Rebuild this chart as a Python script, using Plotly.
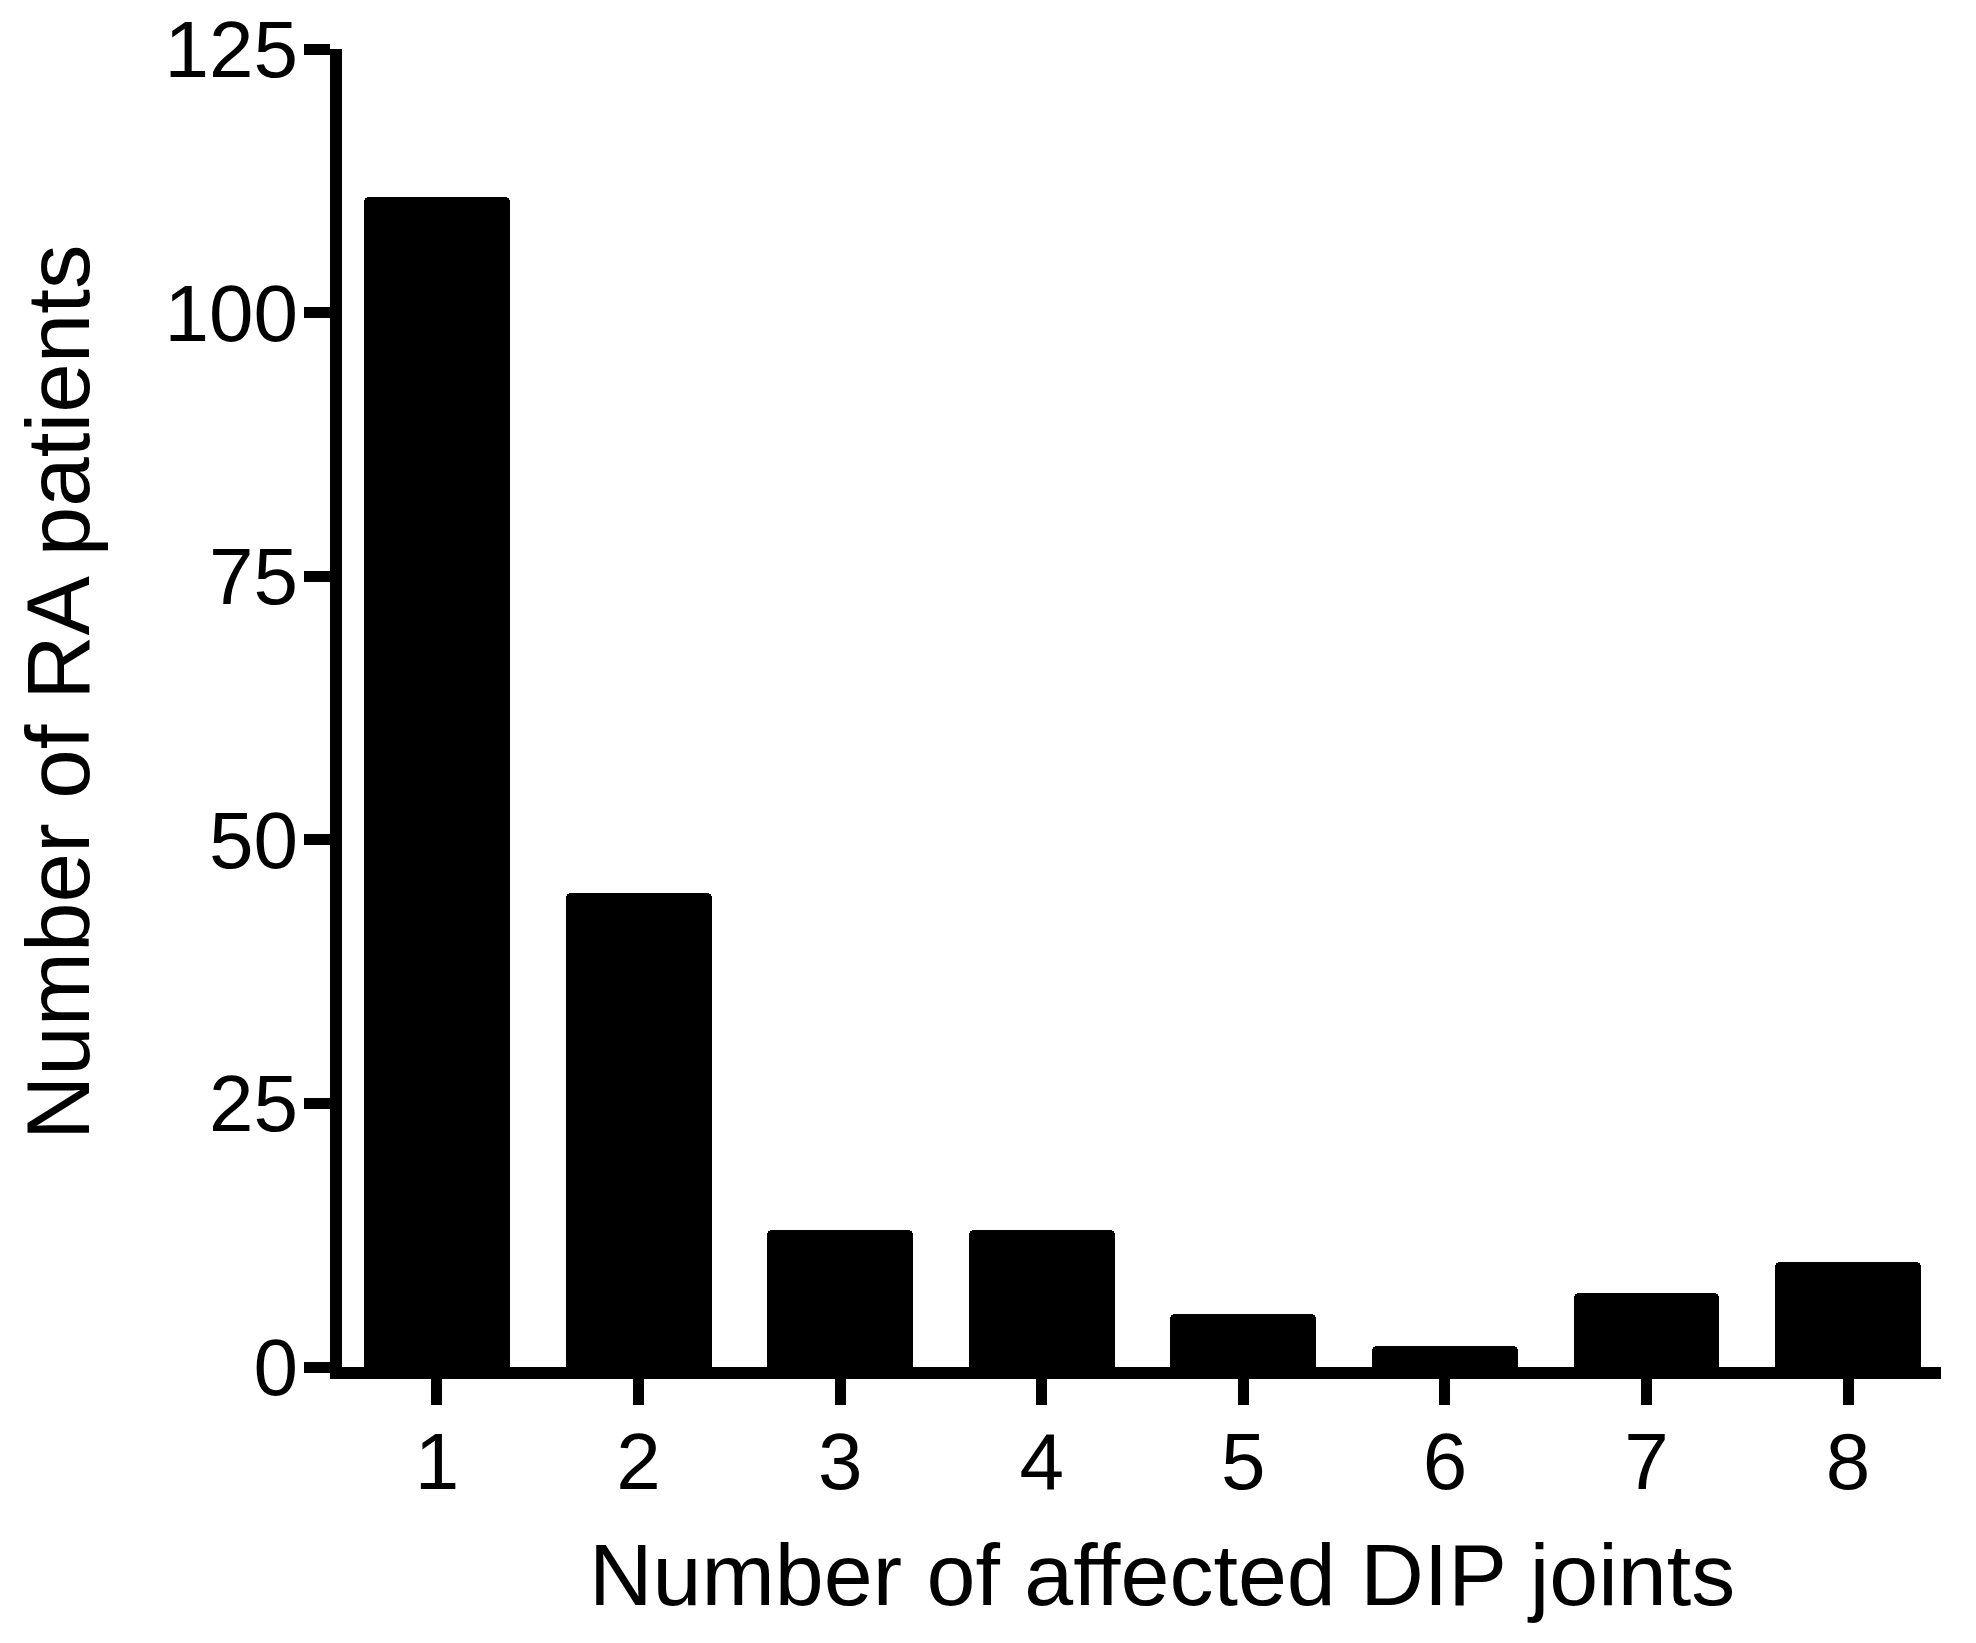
import plotly.graph_objects as go

joints = [1, 2, 3, 4, 5, 6, 7, 8]
patients = [111, 45, 13, 13, 5, 2, 7, 10]
y_ticks = [0, 25, 50, 75, 100, 125]

FONT = "Liberation Sans, Arial, Helvetica, sans-serif"

fig = go.Figure(
    go.Bar(
        x=joints,
        y=patients,
        width=0.724,
        marker=dict(color="black", line=dict(width=0), cornerradius=5),
        showlegend=False,
    )
)

fig.update_layout(
    width=1976,
    height=1643,
    paper_bgcolor="white",
    plot_bgcolor="white",
    margin=dict(l=342, r=35, t=49, b=276, autoexpand=False),
    font=dict(family=FONT, color="black"),
    bargap=0,
    annotations=[
        dict(
            text="Number of affected DIP joints",
            xref="paper", yref="paper",
            x=0.5128, y=0,
            xanchor="center", yanchor="middle",
            yshift=-207,
            showarrow=False,
            font=dict(size=88, family=FONT, color="black"),
        ),
        dict(
            text="Number of RA patients",
            xref="paper", yref="paper",
            x=0, y=0.5114,
            xanchor="center", yanchor="middle",
            xshift=-284,
            textangle=-90,
            showarrow=False,
            font=dict(size=89, family=FONT, color="black"),
        ),
    ],
)

fig.update_xaxes(
    range=[0.529, 8.461],
    tickvals=joints,
    ticktext=[str(j) for j in joints],
    showline=True,
    linewidth=12,
    linecolor="black",
    ticks="outside",
    ticklen=26,
    tickwidth=11,
    tickcolor="black",
    tickfont=dict(size=80, family=FONT, color="black"),
    ticklabelstandoff=-12,
    ticklabeloverflow="allow",
    showgrid=False,
    zeroline=False,
)

fig.update_yaxes(
    range=[0, 125],
    tickvals=y_ticks,
    ticktext=[str(v) for v in y_ticks],
    showline=True,
    linewidth=12,
    linecolor="black",
    ticks="outside",
    ticklen=26,
    tickwidth=11,
    tickcolor="black",
    tickfont=dict(size=80, family=FONT, color="black"),
    ticklabelstandoff=-10,
    ticklabeloverflow="allow",
    showgrid=False,
    zeroline=False,
)

fig.write_html(
    "out.html",
    config={"displayModeBar": False},
    post_script="document.body.style.margin='0';document.body.style.padding='0';",
)
